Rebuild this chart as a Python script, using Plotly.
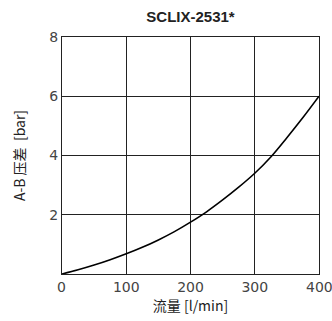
import plotly.graph_objects as go

flow = [0, 25, 50, 75, 100, 125, 150, 175, 200, 225, 250, 275, 300, 325, 350, 375, 400]
dp = [0, 0.14, 0.3, 0.48, 0.68, 0.9, 1.15, 1.43, 1.75, 2.1, 2.5, 2.93, 3.4, 3.95, 4.6, 5.28, 6.0]

x_ticks = [0, 100, 200, 300, 400]
y_ticks = [2, 4, 6, 8]

tick_font = dict(family="DejaVu Sans, sans-serif", size=14, color="#444")

fig = go.Figure()
fig.add_trace(go.Scatter(x=flow, y=dp, mode="lines", line=dict(color="black", width=1.6, shape="spline"), hoverinfo="skip"))

fig.update_layout(
    width=332, height=321,
    margin=dict(l=62, r=13, t=37, b=47),
    paper_bgcolor="white", plot_bgcolor="white",
    showlegend=False,
    title=dict(text="<b>SCLIX-2531*</b>", x=190.5/332, xanchor="center", y=1-17/321, yanchor="middle",
               font=dict(family="Liberation Sans, Arial", size=15, color="#222")),
    xaxis=dict(range=[0, 400], tickvals=x_ticks[1:-1], ticktext=[str(v) for v in x_ticks[1:-1]],
               automargin=False,
               showgrid=True, gridcolor="#222", gridwidth=1, zeroline=False,
               showline=True, linecolor="#222", linewidth=1, mirror=True, ticks="",
               tickfont=tick_font,
               title=dict(text="流量 [l/min]", standoff=4, font=dict(family="Noto Sans CJK SC, Liberation Sans", size=14, color="#222"))),
    yaxis=dict(range=[0, 8], tickvals=y_ticks, ticktext=[str(v) for v in y_ticks],
               automargin=False,
               showgrid=True, gridcolor="#222", gridwidth=1, zeroline=False,
               showline=True, linecolor="#222", linewidth=1, mirror=True, ticks="",
               tickfont=tick_font,
               title=dict(text="A-B 压差  [bar]", standoff=20, font=dict(family="Noto Sans CJK SC, Liberation Sans", size=14, color="#222"))),
)
for v in (x_ticks[0], x_ticks[-1]):
    fig.add_annotation(x=v, y=0, xref="x", yref="y", text=str(v), showarrow=False, yshift=-13,
                       xshift=-1 if v == 0 else 0, font=tick_font)

fig.write_html("out.html")
